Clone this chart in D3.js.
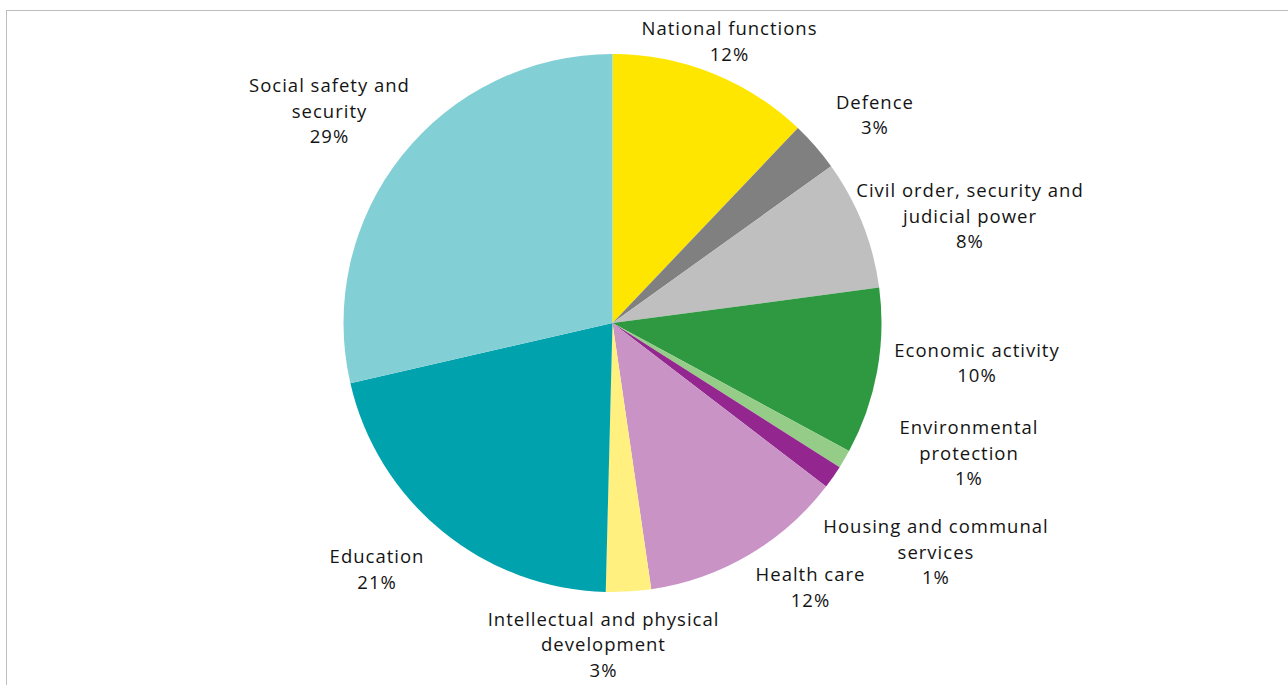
<!DOCTYPE html>
<html>
<head>
<meta charset="utf-8">
<script src="https://cdn.jsdelivr.net/npm/d3@7"></script>
<style>
  html, body { margin: 0; padding: 0; background: #fff; }
  svg { display: block; }
  text { font-family: "Open Sans", "DejaVu Sans", sans-serif; font-size: 18.5px; letter-spacing: 1px; fill: #141414; }
</style>
</head>
<body>
<svg id="chart" width="1288" height="685"></svg>
<script>
// Budget expenditure by function, share of total (%)
const categories = [
  "National functions",
  "Defence",
  "Civil order, security and judicial power",
  "Economic activity",
  "Environmental protection",
  "Housing and communal services",
  "Health care",
  "Intellectual and physical development",
  "Education",
  "Social safety and security"
];
const shares = [12.1, 3.0, 7.8, 10.0, 1.1, 1.4, 12.3, 2.7, 21.0, 28.6];

// Label text broken into lines
const labelLines = [
  ["National functions"],
  ["Defence"],
  ["Civil order, security and", "judicial power"],
  ["Economic activity"],
  ["Environmental", "protection"],
  ["Housing and communal", "services"],
  ["Health care"],
  ["Intellectual and physical", "development"],
  ["Education"],
  ["Social safety and", "security"]
];

const colors = [
  "#FFE600", "#808080", "#BFBFBF", "#2E9940", "#95CC88",
  "#93278F", "#C993C6", "#FFF07F", "#00A3AD", "#82D0D5"
];

// Label placement: distance from centre and angular shift (degrees) from slice middle
const labelRadius = [304.8, 334.9, 373.0, 366.7, 379.6, 396.6, 330.4, 322.1, 340.9, 353.3];
const labelShift  = [0.79, 2.64, 5.01, -4.18, -10.32, 0.43, -6.4, 5.02, 4.45, -1.75];

const svg = d3.select("#chart");
const W = 1288, H = 685;
const cx = 612.5, cy = 323, R = 269;

// Chart area frame
svg.append("rect")
  .attr("x", 6.5).attr("y", 10.5)
  .attr("width", W + 10).attr("height", H + 10)
  .attr("fill", "none")
  .attr("stroke", "#BDBDBD")
  .attr("stroke-width", 1);

const data = categories.map((c, i) => ({ name: c, value: shares[i], i }));

const pie = d3.pie().value(d => d.value).sort(null);
const arcs = pie(data);
const arc = d3.arc().innerRadius(0).outerRadius(R);

const g = svg.append("g").attr("transform", `translate(${cx},${cy})`);

g.selectAll("path.slice")
  .data(arcs)
  .join("path")
  .attr("class", "slice")
  .attr("d", arc)
  .attr("fill", d => colors[d.data.i]);

const lineH = 25.5;
const labels = g.selectAll("g.label")
  .data(arcs)
  .join("g")
  .attr("class", "label")
  .attr("transform", d => {
    const mid = (d.startAngle + d.endAngle) / 2 + labelShift[d.data.i] * Math.PI / 180;
    const [x, y] = d3.pointRadial(mid, labelRadius[d.data.i]);
    return `translate(${x},${y})`;
  });

labels.each(function(d) {
  const lines = labelLines[d.data.i].concat([d3.format(".0f")(d.data.value) + "%"]);
  const t = d3.select(this).append("text").attr("text-anchor", "middle");
  const y0 = -(lines.length - 1) * lineH / 2;
  lines.forEach((s, k) => {
    t.append("tspan")
      .attr("x", 0)
      .attr("y", y0 + k * lineH)
      .attr("dy", "0.35em")
      .text(s);
  });
});
</script>
</body>
</html>
